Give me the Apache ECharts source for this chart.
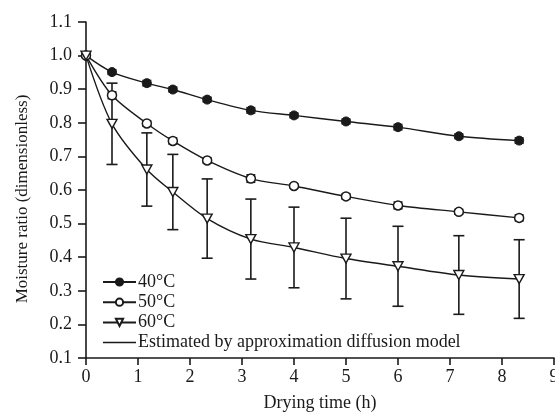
<!DOCTYPE html>
<html>
<head>
<meta charset="utf-8">
<script src="https://cdn.jsdelivr.net/npm/echarts@6/dist/echarts.min.js"></script>
<style>
  html, body { margin: 0; padding: 0; background: #fff; }
  #main { width: 555px; height: 413px; }
</style>
</head>
<body>
<div id="main"></div>
<script>
// drying time (h)
var times = [0, 0.5, 1.17, 1.67, 2.33, 3.17, 4, 5, 6, 7.17, 8.33];
// moisture ratio per temperature
var mr40 = [1.0, 0.951, 0.918, 0.899, 0.869, 0.837, 0.822, 0.804, 0.787, 0.760, 0.747];
var mr50 = [1.0, 0.882, 0.798, 0.746, 0.688, 0.634, 0.612, 0.581, 0.554, 0.535, 0.517];
var mr60 = [1.0, 0.797, 0.661, 0.594, 0.515, 0.454, 0.429, 0.396, 0.373, 0.347, 0.335];
// error bar half widths
var err40 = [0, 0.007, 0.008, 0.007, 0.007, 0.008, 0.007, 0.007, 0.008, 0.007, 0.008];
var err50 = [0, 0.01, 0.008, 0.009, 0.008, 0.011, 0.006, 0.008, 0.01, 0.007, 0.009];
var err60 = [0, 0.121, 0.109, 0.112, 0.118, 0.119, 0.12, 0.12, 0.119, 0.117, 0.117];
var yTicks = [0.1, 0.2, 0.3, 0.4, 0.5, 0.6, 0.7, 0.8, 0.9, 1.0, 1.1];

var font = '"Liberation Serif", "DejaVu Serif", serif';
var ink = '#1a1a1a';
var downTri = 'path://M0,0 L10,0 L5,9 Z';
var modelName = 'Estimated by approximation diffusion model';

function pairs(ys) {
  return times.map(function (t, i) { return [t, ys[i]]; });
}
function bars(ys, es, cap) {
  var out = [];
  for (var i = 0; i < times.length; i++) {
    if (es[i] > 0) out.push([times[i], ys[i] - es[i], ys[i] + es[i], cap]);
  }
  return out;
}

function renderBar(params, api) {
  var lo = api.coord([api.value(0), api.value(1)]);
  var hi = api.coord([api.value(0), api.value(2)]);
  var w = api.value(3);
  var st = { stroke: ink, lineWidth: 1.6 };
  return {
    type: 'group',
    children: [
      { type: 'line', shape: { x1: lo[0], y1: lo[1], x2: hi[0], y2: hi[1] }, style: st },
      { type: 'line', shape: { x1: lo[0] - w, y1: lo[1], x2: lo[0] + w, y2: lo[1] }, style: st },
      { type: 'line', shape: { x1: hi[0] - w, y1: hi[1], x2: hi[0] + w, y2: hi[1] }, style: st }
    ]
  };
}

var myChart = echarts.init(document.getElementById('main'));

var lineBase = {
  type: 'line',
  smooth: 0.3,
  symbolSize: 9,
  lineStyle: { color: ink, width: 1.4 },
  z: 3
};

var option = {
  animation: false,
  textStyle: { fontFamily: font },
  grid: { left: 86, right: 1, top: 22, bottom: 55, outerBoundsMode: 'none', containLabel: false },
  legend: {
    orient: 'vertical',
    left: 97,
    top: 268,
    itemWidth: 33,
    itemHeight: 9,
    itemGap: 2.2,
    textStyle: { fontFamily: font, fontSize: 18, lineHeight: 18, color: ink, padding: [0, 0, 0, -3] },
    data: ['40°C', '50°C', '60°C', { name: modelName, icon: 'path://M0,0 L33,0 L33,1.5 L0,1.5 Z' }]
  },
  xAxis: {
    type: 'value',
    min: 0,
    max: 9,
    interval: 1,
    name: 'Drying time (h)',
    nameLocation: 'middle',
    nameGap: 36,
    nameTextStyle: { fontFamily: font, fontSize: 18, color: ink },
    axisLine: { lineStyle: { color: ink, width: 1.6 } },
    axisTick: { show: true, length: 7, inside: false, lineStyle: { color: ink, width: 1.6 } },
    axisLabel: { fontFamily: font, fontSize: 18, color: ink, margin: 10 },
    splitLine: { show: false }
  },
  yAxis: {
    type: 'value',
    min: yTicks[0],
    max: yTicks[yTicks.length - 1],
    interval: 0.1,
    name: 'Moisture ratio (dimensionless)',
    nameLocation: 'middle',
    nameGap: 55,
    nameTextStyle: { fontFamily: font, fontSize: 17, color: ink, padding: [0, 18, 0, 0] },
    axisLine: { show: true, lineStyle: { color: ink, width: 1.6 } },
    axisTick: { show: true, length: 8, inside: false, lineStyle: { color: ink, width: 1.6 } },
    axisLabel: {
      fontFamily: font, fontSize: 18, color: ink, margin: 14,
      formatter: function (v) { return v.toFixed(1); }
    },
    splitLine: { show: false }
  },
  series: [
    {
      name: 'err40', type: 'custom', renderItem: renderBar, z: 2,
      encode: { x: 0, y: [1, 2] }, data: bars(mr40, err40, 4.5)
    },
    {
      name: 'err50', type: 'custom', renderItem: renderBar, z: 2,
      encode: { x: 0, y: [1, 2] }, data: bars(mr50, err50, 4.5)
    },
    {
      name: 'err60', type: 'custom', renderItem: renderBar, z: 2,
      encode: { x: 0, y: [1, 2] }, data: bars(mr60, err60, 5.5)
    },
    Object.assign({}, lineBase, {
      name: '40°C',
      symbol: 'circle',
      itemStyle: { color: ink, borderColor: ink, borderWidth: 1 },
      data: pairs(mr40)
    }),
    Object.assign({}, lineBase, {
      name: '50°C',
      symbol: 'circle',
      itemStyle: { color: '#fff', borderColor: ink, borderWidth: 1.5 },
      data: pairs(mr50)
    }),
    Object.assign({}, lineBase, {
      name: '60°C',
      symbol: downTri,
      symbolSize: [10, 9],
      itemStyle: { color: '#fff', borderColor: ink, borderWidth: 1.4 },
      data: pairs(mr60)
    }),
    {
      name: modelName,
      type: 'line',
      symbol: 'none',
      lineStyle: { color: ink, width: 1.4 },
      itemStyle: { color: ink },
      data: []
    }
  ]
};

myChart.setOption(option);
</script>
</body>
</html>
